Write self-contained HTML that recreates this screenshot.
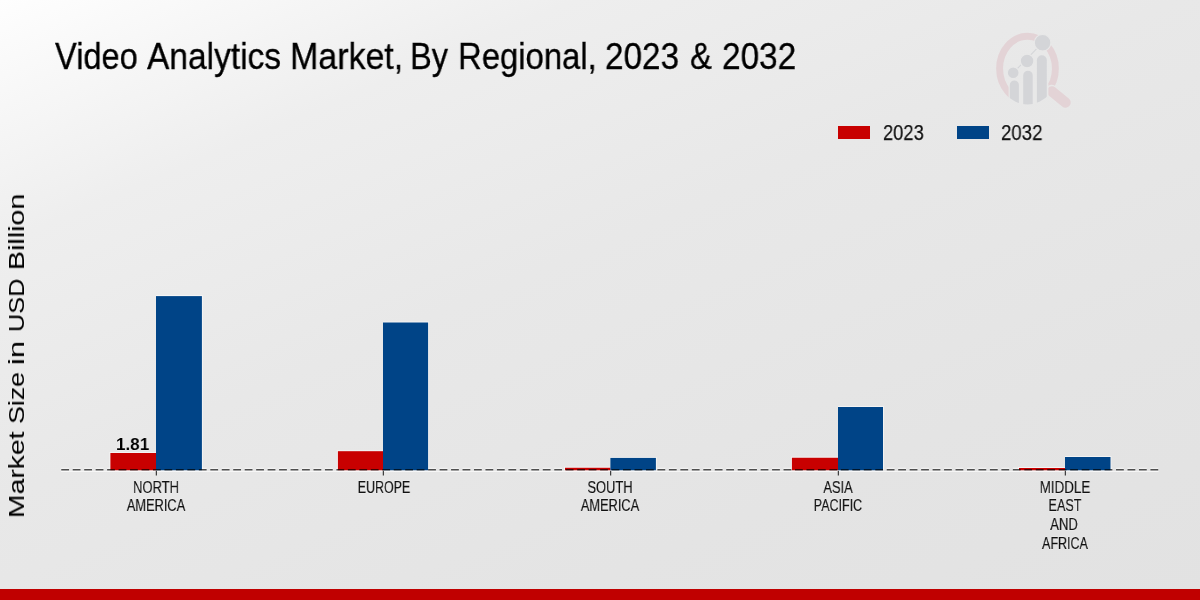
<!DOCTYPE html>
<html>
<head>
<meta charset="utf-8">
<style>
html,body{margin:0;padding:0;}
body{width:1200px;height:600px;overflow:hidden;position:relative;font-family:"Liberation Sans",sans-serif;background:linear-gradient(157deg,#fefefe 0%,#eeeeee 22%,#e8e8e8 45%,#e4e4e4 75%,#e2e2e2 100%);}
.t{will-change:transform;position:absolute;white-space:nowrap;line-height:1;text-shadow:0 0 1px rgba(255,255,255,0.9),0 0 1px rgba(255,255,255,0.9),0 0 1px rgba(255,255,255,0.9);}
#band{position:absolute;left:0;top:589px;width:1200px;height:20px;background:#c00000;}
svg{position:absolute;left:0;top:0;}
</style>
</head>
<body>
<svg width="1200" height="600" viewBox="0 0 1200 600">
<g id="logo"><defs><clipPath id='lc'><ellipse cx='1027.5' cy='68.6' rx='31.3' ry='35.8'/></clipPath><clipPath id='lc2'><ellipse cx='1027.5' cy='68.6' rx='32.5' ry='37'/></clipPath></defs><ellipse cx='1027.5' cy='68.6' rx='27.9' ry='32.3' fill='none' stroke='#e3d3d6' stroke-width='6.9'/><line x1='1051.5' y1='91' x2='1065.5' y2='102.5' stroke='#e8e8e8' stroke-width='12.5' stroke-linecap='round'/><line x1='1052' y1='91.5' x2='1065.5' y2='102.5' stroke='#e3d3d6' stroke-width='10.5' stroke-linecap='round'/><g clip-path='url(#lc2)'><rect x='1008.6' y='84' width='39.8' height='30' fill='#e8e8e8'/></g><g clip-path='url(#lc)' fill='#d4d5d8'><path d='M1009.80,110.00 V85.05 A4.55,4.55 0 0 1 1018.90,85.05 V110.00 Z'/><path d='M1023.20,110.00 V75.45 A4.75,4.75 0 0 1 1032.70,75.45 V110.00 Z'/><path d='M1036.90,110.00 V60.25 A4.95,4.95 0 0 1 1046.80,60.25 V110.00 Z'/></g><line x1='1013.2' y1='72.8' x2='1042.6' y2='42.7' stroke='#d4d5d8' stroke-width='1.1'/><g fill='#d4d5d8' stroke='#e8e8e8' stroke-width='1.2'><circle cx='1013.2' cy='72.8' r='5.9'/><circle cx='1027.1' cy='61' r='6.8'/><circle cx='1042.6' cy='42.7' r='8.3'/></g></g>
<rect x="838" y="126" width="32" height="13" fill="#c80000"/>
<rect x="957" y="126" width="32" height="13" fill="#004487"/>
<line x1="61.25" y1="469.75" x2="1160" y2="469.75" stroke="#fbfbfb" stroke-width="3.8" stroke-dasharray="7.800 3.665" opacity="0.6"/>
<g id="bars">
<path d="M109.40,470.2 V452.00 H156.00 V295.10 H202.90 V470.2" fill="#fbfbfb" opacity="0.6"/>
<path d="M336.90,470.2 V450.20 H383.00 V321.50 H429.10 V470.2" fill="#fbfbfb" opacity="0.6"/>
<path d="M564.00,470.2 V466.75 H610.40 V456.90 H656.90 V470.2" fill="#fbfbfb" opacity="0.6"/>
<path d="M790.90,470.2 V456.75 H838.00 V406.00 H884.00 V470.2" fill="#fbfbfb" opacity="0.6"/>
<path d="M1018.00,470.2 V467.00 H1065.00 V456.00 H1111.50 V470.2" fill="#fbfbfb" opacity="0.6"/>
<rect x="110.40" y="453.00" width="45.60" height="17.20" fill="#c80000"/>
<rect x="156.00" y="296.10" width="45.90" height="174.10" fill="#004487"/>
<rect x="337.90" y="451.20" width="45.10" height="19.00" fill="#c80000"/>
<rect x="383.00" y="322.50" width="45.10" height="147.70" fill="#004487"/>
<rect x="565.00" y="467.75" width="45.40" height="2.45" fill="#c80000"/>
<rect x="610.40" y="457.90" width="45.50" height="12.30" fill="#004487"/>
<rect x="791.90" y="457.75" width="46.10" height="12.45" fill="#c80000"/>
<rect x="838.00" y="407.00" width="45.00" height="63.20" fill="#004487"/>
<rect x="1019.00" y="468.00" width="46.00" height="2.20" fill="#c80000"/>
<rect x="1065.00" y="457.00" width="45.50" height="13.20" fill="#004487"/>
</g>
<line x1="61.25" y1="469.75" x2="1160" y2="469.75" stroke="rgba(0,0,0,0.68)" stroke-width="1.6" stroke-dasharray="7.800 3.665"/>
<line x1="61" y1="471.5" x2="1158.5" y2="471.5" stroke="#ffffff" stroke-width="1" opacity="0.6"/>
<g stroke="rgba(0,0,0,0.9)" stroke-width="1.0">
<line x1="156.30" y1="470.8" x2="156.30" y2="475.5"/>
<line x1="383.30" y1="470.8" x2="383.30" y2="475.5"/>
<line x1="610.70" y1="470.8" x2="610.70" y2="475.5"/>
<line x1="838.30" y1="470.8" x2="838.30" y2="475.5"/>
<line x1="1065.30" y1="470.8" x2="1065.30" y2="475.5"/>
</g>
</svg>
<div id="tw0" class="t" style="font-size:37.57px;top:37.75px;color:#000;-webkit-text-stroke:0.35px #000;left:54.72px;transform-origin:0 0;transform:scaleX(0.8676);">Video</div>
<div id="tw1" class="t" style="font-size:37.57px;top:37.75px;color:#000;-webkit-text-stroke:0.35px #000;left:147.12px;transform-origin:0 0;transform:scaleX(0.8917);">Analytics</div>
<div id="tw2" class="t" style="font-size:37.57px;top:37.75px;color:#000;-webkit-text-stroke:0.35px #000;left:289.67px;transform-origin:0 0;transform:scaleX(0.9043);">Market,</div>
<div id="tw3" class="t" style="font-size:37.57px;top:37.75px;color:#000;-webkit-text-stroke:0.35px #000;left:410.21px;transform-origin:0 0;transform:scaleX(0.8675);">By</div>
<div id="tw4" class="t" style="font-size:37.57px;top:37.75px;color:#000;-webkit-text-stroke:0.35px #000;left:458.09px;transform-origin:0 0;transform:scaleX(0.8741);">Regional,</div>
<div id="tw5" class="t" style="font-size:37.57px;top:37.75px;color:#000;-webkit-text-stroke:0.35px #000;left:605.23px;transform-origin:0 0;transform:scaleX(0.8857);">2023</div>
<div id="tw6" class="t" style="font-size:37.57px;top:37.75px;color:#000;-webkit-text-stroke:0.35px #000;left:689.52px;transform-origin:0 0;transform:scaleX(0.8724);">&amp;</div>
<div id="tw7" class="t" style="font-size:37.57px;top:37.75px;color:#000;-webkit-text-stroke:0.35px #000;left:722.42px;transform-origin:0 0;transform:scaleX(0.8871);">2032</div>
<div id="yw0" class="t" style="font-size:22.00px;top:270.23px;color:#000;-webkit-text-stroke:0.1px #000;left:6.40px;transform-origin:0 0;transform:rotate(-90deg) scaleX(1.3007);">Billion</div>
<div id="yw1" class="t" style="font-size:22.00px;top:332.36px;color:#000;-webkit-text-stroke:0.1px #000;left:6.40px;transform-origin:0 0;transform:rotate(-90deg) scaleX(1.1483);">USD</div>
<div id="yw2" class="t" style="font-size:22.00px;top:365.00px;color:#000;-webkit-text-stroke:0.1px #000;left:6.40px;transform-origin:0 0;transform:rotate(-90deg) scaleX(1.4001);">in</div>
<div id="yw3" class="t" style="font-size:22.00px;top:423.56px;color:#000;-webkit-text-stroke:0.1px #000;left:6.40px;transform-origin:0 0;transform:rotate(-90deg) scaleX(1.2148);">Size</div>
<div id="yw4" class="t" style="font-size:22.00px;top:518.39px;color:#000;-webkit-text-stroke:0.1px #000;left:6.40px;transform-origin:0 0;transform:rotate(-90deg) scaleX(1.2868);">Market</div>
<div id="l1" class="t" style="font-size:21.24px;top:122.57px;color:#111;-webkit-text-stroke:0.25px #111;left:882.89px;transform-origin:0 0;transform:scaleX(0.8635);">2023</div>
<div id="l2" class="t" style="font-size:21.24px;top:122.59px;color:#111;-webkit-text-stroke:0.25px #111;left:1000.80px;transform-origin:0 0;transform:scaleX(0.8780);">2032</div>
<div id="val" class="t" style="font-size:17.20px;top:435.79px;color:#000;font-weight:bold;left:116.06px;transform-origin:0 0;transform:scaleX(0.9913);">1.81</div>
<div id="xl0" class="t" style="font-size:17.00px;top:479.30px;color:#111;-webkit-text-stroke:0.2px #111;left:5.53px;width:300px;text-align:center;transform-origin:50% 0;transform:scaleX(0.7653);">NORTH</div>
<div id="xl1" class="t" style="font-size:17.00px;top:496.90px;color:#111;-webkit-text-stroke:0.2px #111;left:5.89px;width:300px;text-align:center;transform-origin:50% 0;transform:scaleX(0.7525);">AMERICA</div>
<div id="xl2" class="t" style="font-size:17.00px;top:478.70px;color:#111;-webkit-text-stroke:0.2px #111;left:233.74px;width:300px;text-align:center;transform-origin:50% 0;transform:scaleX(0.7307);">EUROPE</div>
<div id="xl3" class="t" style="font-size:17.00px;top:478.70px;color:#111;-webkit-text-stroke:0.2px #111;left:459.78px;width:300px;text-align:center;transform-origin:50% 0;transform:scaleX(0.7600);">SOUTH</div>
<div id="xl4" class="t" style="font-size:17.00px;top:497.10px;color:#111;-webkit-text-stroke:0.2px #111;left:460.01px;width:300px;text-align:center;transform-origin:50% 0;transform:scaleX(0.7520);">AMERICA</div>
<div id="xl5" class="t" style="font-size:17.00px;top:478.54px;color:#111;-webkit-text-stroke:0.2px #111;left:687.93px;width:300px;text-align:center;transform-origin:50% 0;transform:scaleX(0.7602);">ASIA</div>
<div id="xl6" class="t" style="font-size:17.00px;top:497.10px;color:#111;-webkit-text-stroke:0.2px #111;left:688.21px;width:300px;text-align:center;transform-origin:50% 0;transform:scaleX(0.7344);">PACIFIC</div>
<div id="xl7" class="t" style="font-size:17.00px;top:479.30px;color:#111;-webkit-text-stroke:0.2px #111;left:915.12px;width:300px;text-align:center;transform-origin:50% 0;transform:scaleX(0.7879);">MIDDLE</div>
<div id="xl8" class="t" style="font-size:17.00px;top:497.30px;color:#111;-webkit-text-stroke:0.2px #111;left:915.29px;width:300px;text-align:center;transform-origin:50% 0;transform:scaleX(0.7426);">EAST</div>
<div id="xl9" class="t" style="font-size:17.00px;top:515.90px;color:#111;-webkit-text-stroke:0.2px #111;left:914.12px;width:300px;text-align:center;transform-origin:50% 0;transform:scaleX(0.7687);">AND</div>
<div id="xl10" class="t" style="font-size:17.00px;top:534.70px;color:#111;-webkit-text-stroke:0.2px #111;left:915.22px;width:300px;text-align:center;transform-origin:50% 0;transform:scaleX(0.7352);">AFRICA</div>
<div id="band"></div>
</body>
</html>
